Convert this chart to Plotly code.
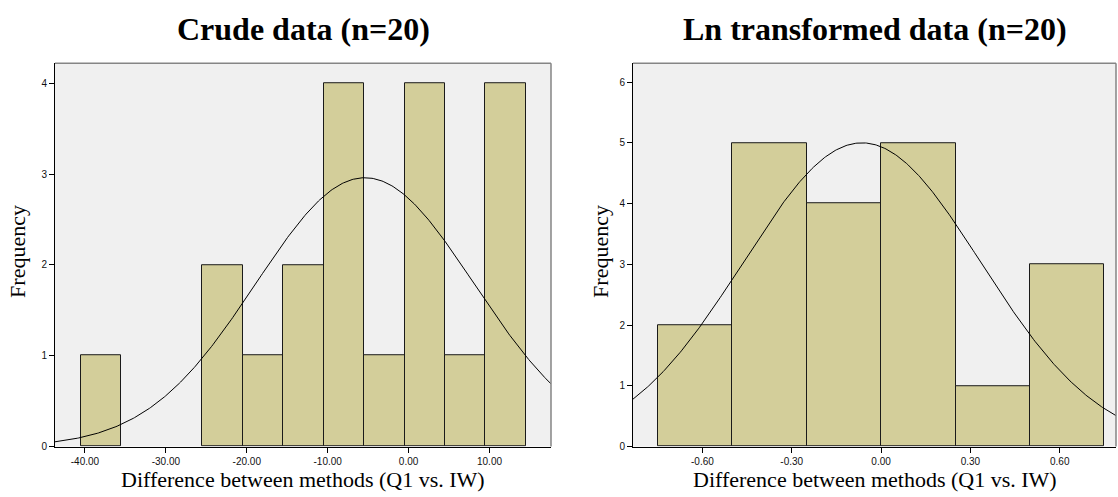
import numpy as np
import plotly.graph_objects as go

# Histogram bins (left edges), bin widths and frequencies
crude_bin_starts = [-40.5, -35.5, -30.5, -25.5, -20.5, -15.5, -10.5, -5.5, -0.5, 4.5, 9.5]
crude_bin_width = 5.0
crude_counts = [1, 0, 0, 2, 1, 2, 4, 1, 4, 1, 4]
crude_mean, crude_sd = -5.4, 13.48

ln_bin_starts = [-0.75, -0.50, -0.25, 0.00, 0.25, 0.50]
ln_bin_width = 0.25
ln_counts = [2, 5, 4, 5, 1, 3]
ln_mean, ln_sd = -0.064, 0.399

n_obs = 20

crude_ticks = [-40, -30, -20, -10, 0, 10]
crude_ticklabels = ["-40.00", "-30.00", "-20.00", "-10.00", "0.00", "10.00"]
ln_ticks = [-0.6, -0.3, 0.0, 0.3, 0.6]
ln_ticklabels = ["-0.60", "-0.30", "0.00", "0.30", "0.60"]

crude_xrange = [-43.7, 17.6]
ln_xrange = [-0.833, 0.789]
crude_yrange = [0, 4.22]
ln_yrange = [0, 6.31]

titles = ["Crude data (n=20)", "Ln transformed data (n=20)"]
x_title = "Difference between methods (Q1 vs. IW)"
y_title = "Frequency"

BAR_FILL = "#D3CE9A"
PLOT_BG = "#F0F0F0"
FRAME_GRAY = "#858585"
SERIF = "Liberation Serif, Times New Roman, serif"
SANS = "Liberation Sans, Arial, sans-serif"

W, H = 1118, 497
y_dom = [1 - 452 / H, 1 - 64 / H]
x_doms = [[55 / W, 551 / W], [633 / W, 1116 / W]]

fig = go.Figure()

panels = [
    (crude_bin_starts, crude_bin_width, crude_counts, crude_mean, crude_sd, crude_xrange),
    (ln_bin_starts, ln_bin_width, ln_counts, ln_mean, ln_sd, ln_xrange),
]

for i, (starts, bw, counts, mu, sd, xr) in enumerate(panels):
    xa = "x" if i == 0 else "x2"
    ya = "y" if i == 0 else "y2"
    centers = [s + bw / 2 for s in starts]
    # empty bins get no outline
    outline_w = [1 if c > 0 else 0 for c in counts]
    fig.add_trace(go.Bar(
        x=centers, y=counts, width=[bw] * len(counts),
        marker=dict(color=BAR_FILL, line=dict(color="#1a1a1a", width=outline_w)),
        xaxis=xa, yaxis=ya, showlegend=False, hoverinfo="x+y",
    ))
    # Fitted normal curve scaled to frequency
    xs = np.linspace(xr[0], xr[1], 400)
    ys = n_obs * bw / (sd * np.sqrt(2 * np.pi)) * np.exp(-0.5 * ((xs - mu) / sd) ** 2)
    fig.add_trace(go.Scatter(
        x=xs, y=ys, mode="lines", line=dict(color="black", width=1),
        xaxis=xa, yaxis=ya, showlegend=False, hoverinfo="skip",
    ))

axis_common = dict(
    showgrid=False, zeroline=False, showline=True, linecolor="black", linewidth=1,
    ticks="outside", ticklen=5, tickcolor="black", tickwidth=1,
    tickfont=dict(family=SANS, size=10, color="#111"),
)

fig.update_layout(
    width=W, height=H, margin=dict(l=0, r=0, t=0, b=0),
    paper_bgcolor="white", plot_bgcolor=PLOT_BG, bargap=0,
    xaxis=dict(domain=x_doms[0], range=crude_xrange, tickvals=crude_ticks,
               ticktext=crude_ticklabels, anchor="y", **axis_common),
    yaxis=dict(domain=y_dom, range=crude_yrange, tickvals=[0, 1, 2, 3, 4],
               anchor="x", **axis_common),
    xaxis2=dict(domain=x_doms[1], range=ln_xrange, tickvals=ln_ticks,
                ticktext=ln_ticklabels, anchor="y2", **axis_common),
    yaxis2=dict(domain=y_dom, range=ln_yrange, tickvals=[0, 1, 2, 3, 4, 5, 6],
                anchor="x2", **axis_common),
)

# Gray top/right frame of each plot area
for i in range(2):
    xref = "x domain" if i == 0 else "x2 domain"
    yref = "y domain" if i == 0 else "y2 domain"
    fig.add_shape(type="line", xref=xref, yref=yref, x0=0, x1=1, y0=1, y1=1,
                  line=dict(color=FRAME_GRAY, width=1.5))
    fig.add_shape(type="line", xref=xref, yref=yref, x0=1, x1=1, y0=0, y1=1,
                  line=dict(color=FRAME_GRAY, width=1.5))

# Panel titles and axis titles
for i in range(2):
    cx = (x_doms[i][0] + x_doms[i][1]) / 2
    fig.add_annotation(text="<b>" + titles[i] + "</b>", xref="paper", yref="paper",
                       x=cx, y=1 - 29 / H, showarrow=False, xanchor="center", yanchor="middle",
                       font=dict(family=SERIF, size=32, color="black"))
    fig.add_annotation(text=x_title, xref="paper", yref="paper",
                       x=cx, y=1 - 485 / H, showarrow=False, xanchor="center", yanchor="middle",
                       font=dict(family=SERIF, size=22, color="black"))
    yx = 18 / W if i == 0 else 601 / W
    fig.add_annotation(text=y_title, xref="paper", yref="paper",
                       x=yx, y=1 - 255 / H, showarrow=False, xanchor="center", yanchor="middle",
                       textangle=-90, font=dict(family=SERIF, size=22, color="black"))

fig.write_html("out.html")
